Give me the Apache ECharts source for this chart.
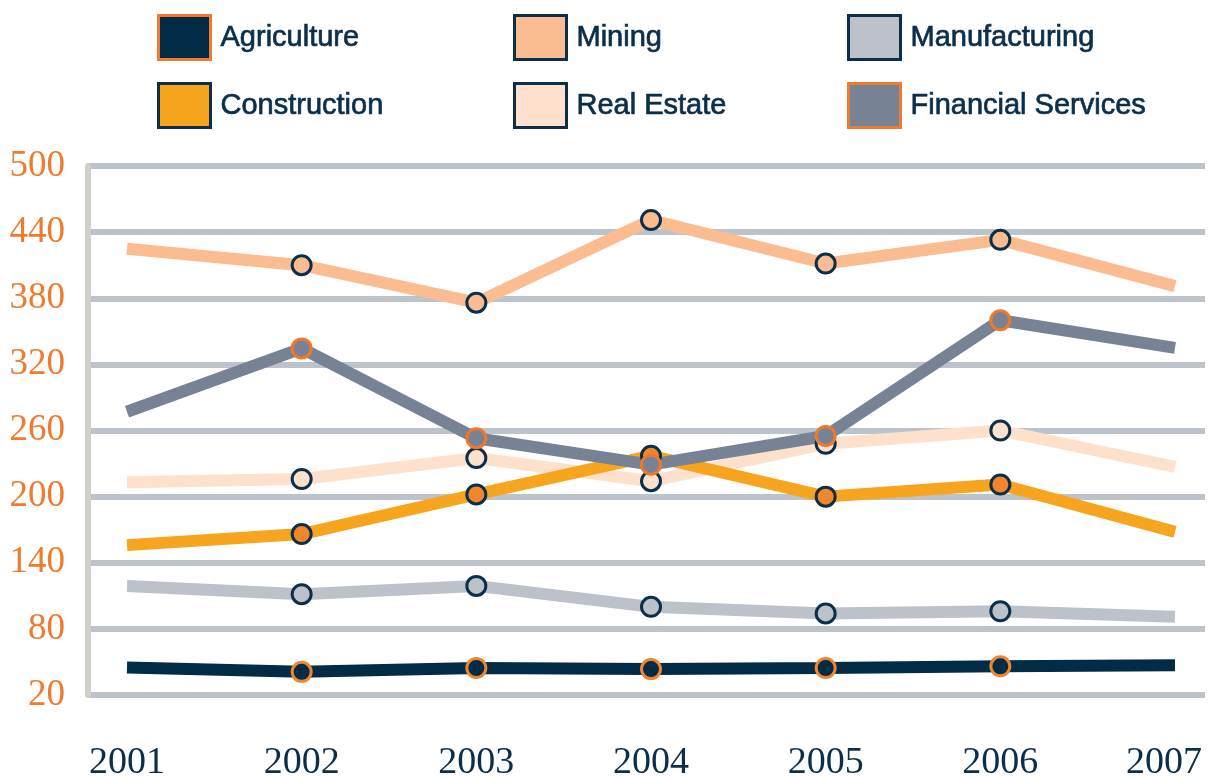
<!DOCTYPE html>
<html>
<head>
<meta charset="utf-8">
<script src="https://cdn.jsdelivr.net/npm/echarts@6/dist/echarts.min.js"></script>
<style>
html,body{margin:0;padding:0;background:#fff;}
#chart{width:1209px;height:778px;}
</style>
</head>
<body>
<div id="chart"></div>
<script>
var years = ['2001','2002','2003','2004','2005','2006','2007'];
var yTicks = [20, 80, 140, 200, 260, 320, 380, 440, 500];
var agriculture = [45, 41, 44.5, 43.5, 44.5, 46, 47];
var mining = [425, 410, 376, 451, 411.5, 433, 391];
var manufacturing = [119, 111.5, 119, 100, 94, 96, 91];
var construction = [156, 166, 202, 237, 200, 211, 168];
var realEstate = [213, 216, 235, 214, 248, 260, 227];
var financial = [277, 334.5, 253, 229, 255, 360, 335];

var NAVY = '#0b2f4a';
var ORANGE = '#f07a2d';

var seriesDefs = [
  {name:'Agriculture', data:agriculture, line:'#022b45', fill:'#022b45', border:'#f0842f'},
  {name:'Mining', data:mining, line:'#fbbc91', fill:'#fbbc91', border:NAVY},
  {name:'Manufacturing', data:manufacturing, line:'#bdc2ca', fill:'#bdc2ca', border:NAVY},
  {name:'Real Estate', data:realEstate, line:'#fde1cc', fill:'#fde1cc', border:NAVY},
  {name:'Construction', data:construction, line:'#f7a51e', fill:'#f2862a', border:NAVY},
  {name:'Financial Services', data:financial, line:'#778395', fill:'#778395', border:'#f0782a'}
];

var legendDefs = [
  {name:'Agriculture', left:157, top:14, fill:'#022b45', border:'#f07a2d'},
  {name:'Mining', left:513, top:14, fill:'#fbbc91', border:NAVY},
  {name:'Manufacturing', left:847, top:14, fill:'#bdc2ca', border:NAVY},
  {name:'Construction', left:157, top:82, fill:'#f7a51e', border:NAVY},
  {name:'Real Estate', left:513, top:82, fill:'#fde1cc', border:NAVY},
  {name:'Financial Services', left:847, top:82, fill:'#778395', border:'#f07a2d'}
];

var chart = echarts.init(document.getElementById('chart'), null, {renderer:'canvas'});

var legends = legendDefs.map(function(l){
  return {
    left: l.left, top: l.top, orient:'horizontal', padding:0,
    itemWidth: 52, itemHeight: 44, selectedMode:false,
    textStyle:{color:NAVY, fontSize:29, fontFamily:'"Liberation Sans", Arial, sans-serif',
      textBorderColor:NAVY, textBorderWidth:0.7, padding:[5,0,0,5]},
    data:[{name:l.name, icon:'rect', itemStyle:{color:l.fill, borderColor:l.border, borderWidth:3}}]
  };
});

var series = seriesDefs.map(function(s){
  var last = s.data.length - 1;
  return {
    name: s.name, type:'line', xAxisIndex:1, yAxisIndex:1,
    data: s.data.map(function(v,i){ return (i===0||i===last) ? {value:v, symbol:'none'} : v; }),
    symbol:'circle', symbolSize:19, showSymbol:true,
    lineStyle:{color:s.line, width:12, cap:'butt'},
    itemStyle:{color:s.fill, borderColor:s.border, borderWidth:3},
    emphasis:{disabled:true}, animation:false, silent:true
  };
});

var labelFont = '"Liberation Serif", "DejaVu Serif", serif';

chart.setOption({
  backgroundColor:'#ffffff',
  animation:false,
  legend: legends,
  grid:[
    {left:88, right:4, top:166, bottom:83, containLabel:false, outerBoundsMode:'none'},
    {left:127, right:34, top:166, bottom:83, containLabel:false, outerBoundsMode:'none'}
  ],
  xAxis:[
    {type:'category', gridIndex:0, data:years, show:false},
    {type:'category', gridIndex:1, data:years, boundaryGap:false,
     axisLine:{show:false}, axisTick:{show:false}, splitLine:{show:false},
     axisLabel:{color:NAVY, fontSize:38, fontFamily:labelFont, margin:49, interval:0, hideOverlap:false,
       formatter:function(v, i){ return i === years.length - 1 ? '{last|' + v + '}' : v; },
       rich:{last:{color:NAVY, fontSize:38, fontFamily:labelFont, padding:[0,22,0,0]}}}}
  ],
  yAxis:[
    {type:'value', gridIndex:0, min:yTicks[0], max:yTicks[yTicks.length-1], interval:60,
     axisLine:{show:true, lineStyle:{color:'#d0d0cb', width:6}},
     axisTick:{show:false},
     splitLine:{show:true, lineStyle:{color:'#bcc3ca', width:6}},
     axisLabel:{color:ORANGE, fontSize:37, fontFamily:labelFont, margin:23}},
    {type:'value', gridIndex:1, min:yTicks[0], max:yTicks[yTicks.length-1], interval:60, show:false, splitLine:{show:false}}
  ],
  series: series
});
</script>
</body>
</html>
